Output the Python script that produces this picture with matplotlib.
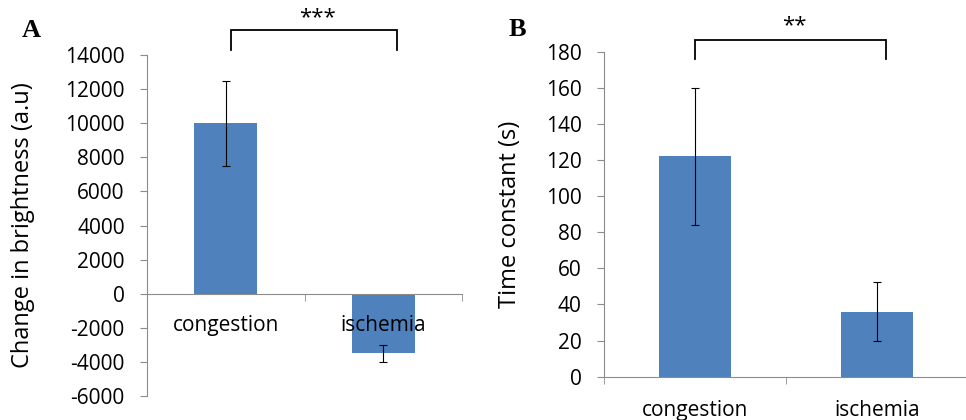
import matplotlib.pyplot as plt
import numpy as np

plt.rcParams['font.family'] = ['Open Sans', 'DejaVu Sans']
plt.rcParams['axes.unicode_minus'] = False

categories = ['congestion', 'ischemia']

# panel A: change in brightness
brightness = [10000, -3500]
brightness_err = [2500, 500]

# panel B: time constant
time_const = [122, 36]
time_const_err = [38, 16.5]

BAR_COLOR = '#4F81BD'
AXIS_COLOR = '#8c8c8c'

fig = plt.figure(figsize=(9.66, 4.2), dpi=100)
axA = fig.add_axes([0.1522, 0.0571, 0.3261, 0.8119])
axB = fig.add_axes([0.6253, 0.1031, 0.3768, 0.7738])


def style_axes(ax, ylim, yticks, xpad):
    x = np.arange(len(categories))
    ax.set_xlim(-0.5, len(categories) - 0.5)
    ax.set_ylim(*ylim)
    ax.set_yticks(yticks)
    ax.set_axisbelow(False)
    ax.spines['top'].set_visible(False)
    ax.spines['right'].set_visible(False)
    ax.spines['left'].set_color(AXIS_COLOR)
    ax.spines['bottom'].set_color(AXIS_COLOR)
    ax.spines['bottom'].set_position(('data', 0))
    ax.set_xticks(x)
    ax.set_xticklabels(categories)
    ax.set_xticks(np.arange(-0.5, len(categories)), minor=True)
    ax.tick_params(axis='x', which='major', length=0, pad=xpad, labelsize=15)
    ax.tick_params(axis='x', which='minor', length=5, color=AXIS_COLOR, direction='out')
    ax.tick_params(axis='y', length=5, color=AXIS_COLOR, labelsize=15, pad=11)
    ax.patch.set_visible(False)


def bracket(ax, x0, x1, ytop, ydrop, stars, ystar):
    ax.plot([x0, x0, x1, x1], [ydrop, ytop, ytop, ydrop], color='black', lw=1.3,
            clip_on=False, solid_joinstyle='miter')
    ax.text((x0 + x1) / 2 + 0.02, ystar, stars, ha='center', va='center',
            fontsize=16, clip_on=False)


# ---- A ----
x = np.arange(len(categories))
axA.bar(x, brightness, width=0.4, color=BAR_COLOR, zorder=2)
axA.errorbar(x, brightness, yerr=brightness_err, fmt='none', ecolor='black',
             elinewidth=0.8, capsize=3, capthick=0.8, zorder=3)
style_axes(axA, (-6000, 14000), np.arange(-6000, 14001, 2000), 15)
axA.set_ylabel('Change in brightness (a.u)', fontsize=17)
axA.yaxis.set_label_coords(-0.356, 0.5)
bracket(axA, 0.033, 1.087, 15480, 14300, '***', 16200)
fig.text(0.023, 0.912, 'A', fontsize=19, fontweight='bold', family='Liberation Serif',
         va='baseline')

# ---- B ----
axB.bar(x, time_const, width=0.4, color=BAR_COLOR, zorder=2)
axB.errorbar(x, time_const, yerr=time_const_err, fmt='none', ecolor='black',
             elinewidth=0.8, capsize=3, capthick=0.8, zorder=3)
style_axes(axB, (0, 180), np.arange(0, 181, 20), 16.5)
axB.set_ylabel('Time constant (s)', fontsize=17)
axB.yaxis.set_label_coords(-0.225, 0.5)
bracket(axB, 0.0, 1.05, 186.5, 175.8, '**', 194.5)
fig.text(0.527, 0.914, 'B', fontsize=19, fontweight='bold', family='Liberation Serif',
         va='baseline')

fig.savefig('out.png', dpi=100)
